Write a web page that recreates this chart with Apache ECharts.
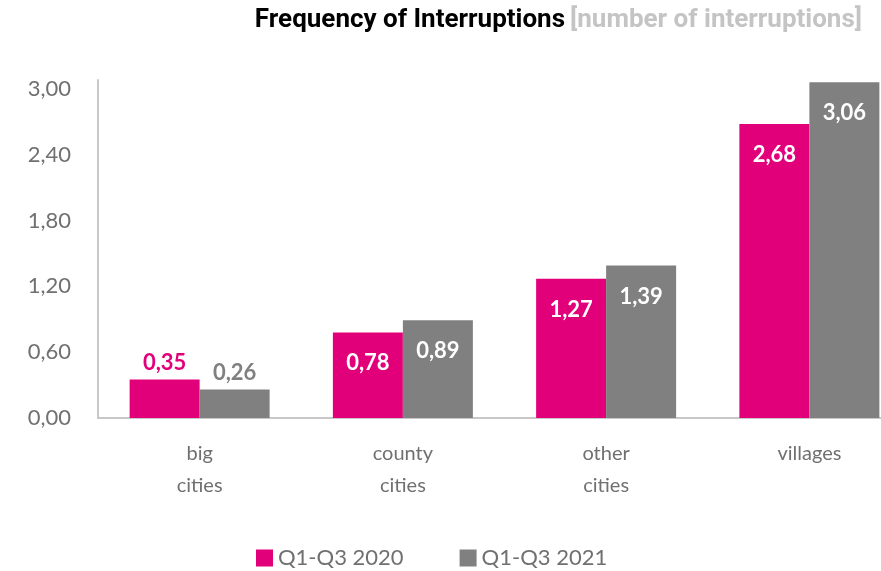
<!DOCTYPE html>
<html>
<head>
<meta charset="utf-8">
<style>
  html, body { margin: 0; padding: 0; background: #ffffff; }
  #chart { width: 881px; height: 571px; }
</style>
<script src="https://cdn.jsdelivr.net/npm/echarts@6/dist/echarts.min.js"></script>
</head>
<body>
<div id="chart"></div>
<script>
// Interruption frequency by settlement type
const categories = ['big\ncities', 'county\ncities', 'other\ncities', 'villages'];
const seriesNames = ['Q1-Q3 2020', 'Q1-Q3 2021'];
const values2020 = [0.35, 0.78, 1.27, 2.68];
const values2021 = [0.26, 0.89, 1.39, 3.06];
const yTicks = [0, 0.6, 1.2, 1.8, 2.4, 3.0];

const PINK = '#e2007a';
const GREY = '#808080';
const TEXT_GREY = '#707070';
const FONT = 'Lato, "Open Sans", sans-serif';
const TITLE_FONT = 'Roboto, "Noto Sans", sans-serif';

const fmt = v => v.toFixed(2).replace('.', ',');

// small bars carry their value above the bar, tall bars inside the top
function barData(values, color) {
  return values.map(v => {
    const outside = v < 0.5;
    return {
      value: v,
      label: outside
        ? { position: 'top', distance: 6, color: color }
        : { position: 'insideTop', distance: 20, color: '#ffffff' }
    };
  });
}

const chart = echarts.init(document.getElementById('chart'), null, { renderer: 'canvas' });

chart.setOption({
  animation: false,
  backgroundColor: '#ffffff',
  title: {
    text: '{a|Frequency of Interruptions} {b|[number of interruptions]}',
    right: 19,
    top: 7,
    padding: 0,
    textStyle: {
      rich: {
        a: { fontFamily: TITLE_FONT, fontWeight: 'bold', fontSize: 26, color: '#000000' },
        b: { fontFamily: TITLE_FONT, fontWeight: 'bold', fontSize: 26, color: '#c4c4c4' }
      }
    }
  },
  legend: {
    data: seriesNames,
    left: 256,
    top: 547,
    padding: 0,
    itemWidth: 17,
    itemHeight: 17,
    itemGap: 56,
    icon: 'rect',
    textStyle: { fontFamily: FONT, fontSize: 22, color: TEXT_GREY }
  },
  grid: {
    left: 98,
    top: 80,
    width: 813,
    height: 338,
    containLabel: false,
    outerBoundsMode: 'none'
  },
  xAxis: {
    type: 'category',
    data: categories,
    axisLine: { lineStyle: { color: '#c8c8c8', width: 2 } },
    axisTick: { show: false },
    axisLabel: {
      fontFamily: FONT,
      fontSize: 20,
      color: TEXT_GREY,
      lineHeight: 32,
      margin: 20
    }
  },
  yAxis: {
    type: 'value',
    min: 0,
    max: 3.08,
    interval: 0.6,
    axisLine: { show: true, lineStyle: { color: '#c8c8c8', width: 2 } },
    axisTick: { show: false },
    splitLine: { show: false },
    axisLabel: {
      fontFamily: FONT,
      fontSize: 22,
      color: TEXT_GREY,
      margin: 27,
      showMaxLabel: false,
      formatter: v => (yTicks.some(t => Math.abs(t - v) < 1e-6) ? fmt(v) : '')
    }
  },
  series: [
    {
      name: seriesNames[0],
      type: 'bar',
      data: barData(values2020, PINK),
      barWidth: 70,
      barGap: '0%',
      itemStyle: { color: PINK },
      label: {
        show: true,
        fontFamily: FONT,
        fontWeight: 'bold',
        fontSize: 22,
        formatter: p => fmt(p.value)
      }
    },
    {
      name: seriesNames[1],
      type: 'bar',
      data: barData(values2021, GREY),
      barWidth: 70,
      barGap: '0%',
      itemStyle: { color: GREY },
      label: {
        show: true,
        fontFamily: FONT,
        fontWeight: 'bold',
        fontSize: 22,
        formatter: p => fmt(p.value)
      }
    }
  ]
});
</script>
</body>
</html>
